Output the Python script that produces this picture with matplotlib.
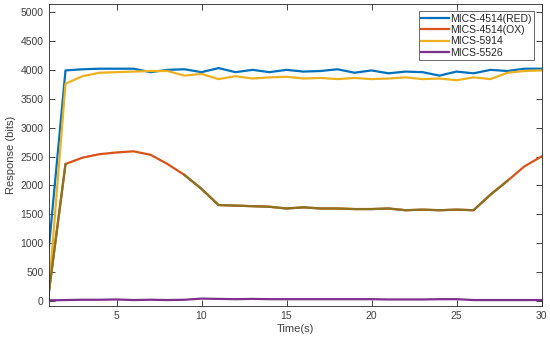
import matplotlib
matplotlib.use("Agg")
import matplotlib.pyplot as plt
import numpy as np

plt.rcParams['font.family'] = ['Liberation Sans', 'DejaVu Sans']

time_s = list(range(1, 31))
red = [850, 3990, 4010, 4020, 4020, 4020, 3960, 4000, 4010, 3960, 4030, 3960, 4000, 3960, 4000,
       3970, 3980, 4010, 3950, 3990, 3940, 3970, 3960, 3900, 3970, 3940, 4000, 3980, 4020, 4020]
ox = [100, 2370, 2480, 2540, 2570, 2590, 2530, 2370, 2180, 1940, 1660, 1650, 1640, 1630, 1600,
      1620, 1600, 1600, 1590, 1590, 1600, 1570, 1580, 1570, 1580, 1570, 1840, 2080, 2330, 2500]
m5914 = [100, 3760, 3890, 3950, 3960, 3970, 3980, 3980, 3900, 3930, 3840, 3890, 3850, 3870, 3880,
         3850, 3860, 3840, 3860, 3840, 3850, 3870, 3840, 3850, 3820, 3870, 3840, 3950, 3980, 3990]
m5526 = [10, 15, 20, 20, 25, 15, 20, 15, 20, 40, 35, 30, 35, 30, 30,
         30, 30, 30, 30, 30, 25, 25, 25, 30, 30, 15, 15, 15, 15, 15]
labels = ["MICS-4514(RED)", "MICS-4514(OX)", "MICS-5914", "MICS-5526"]
yticks = list(range(0, 5001, 500))
xticks = [5, 10, 15, 20, 25, 30]

colors = [(0, 0.447, 0.741), (0.85, 0.325, 0.098), (0.929, 0.694, 0.125), (0.494, 0.184, 0.556)]
olive = "#8a7222"

fig = plt.figure(figsize=(5.5, 3.4), dpi=100)
ax = fig.add_axes([48.5/550, 1 - 306/340, (541.5-48.5)/550, (306-4)/340])
lw = 1.6
x = np.array(time_s)
ax.plot(x, red, color=colors[0], lw=lw, label=labels[0])
ax.plot(x, ox, color=colors[1], lw=lw, label=labels[1])
ax.plot(x, m5914, color=colors[2], lw=lw, label=labels[2])
ax.plot(x, m5526, color=colors[3], lw=lw, label=labels[3])
# overlapping olive trace on the OX curve
oxa = np.array(ox)
ax.plot(x[8:28], oxa[8:28], color=olive, lw=lw)
ax.plot(x[0:2], oxa[0:2], color=olive, lw=lw)

ax.set_xlim(1, 30)
ax.set_ylim(-88, 5140)
ax.set_xticks(xticks)
ax.set_yticks(yticks)
tc = "#404040"
ax.tick_params(direction="in", length=4, width=0.6, colors="#262626", labelcolor=tc,
               labelsize=7.5, top=True, right=True, labeltop=False, labelright=False)
for s in ax.spines.values():
    s.set_color("#262626")
    s.set_linewidth(0.6)
ax.set_xlabel("Time(s)", fontsize=8, color=tc, labelpad=2)
ax.set_ylabel("Response (bits)", fontsize=8, color=tc, labelpad=3)
leg = ax.legend(loc="upper right", fontsize=7.5, frameon=True, fancybox=False,
                edgecolor="#262626", borderpad=0.25, labelspacing=0.12, handlelength=2.6,
                handletextpad=0.15, borderaxespad=0.7)
leg.get_frame().set_linewidth(0.6)
for t in leg.get_texts():
    t.set_color("#262626")
fig.savefig("out.png", dpi=100)
